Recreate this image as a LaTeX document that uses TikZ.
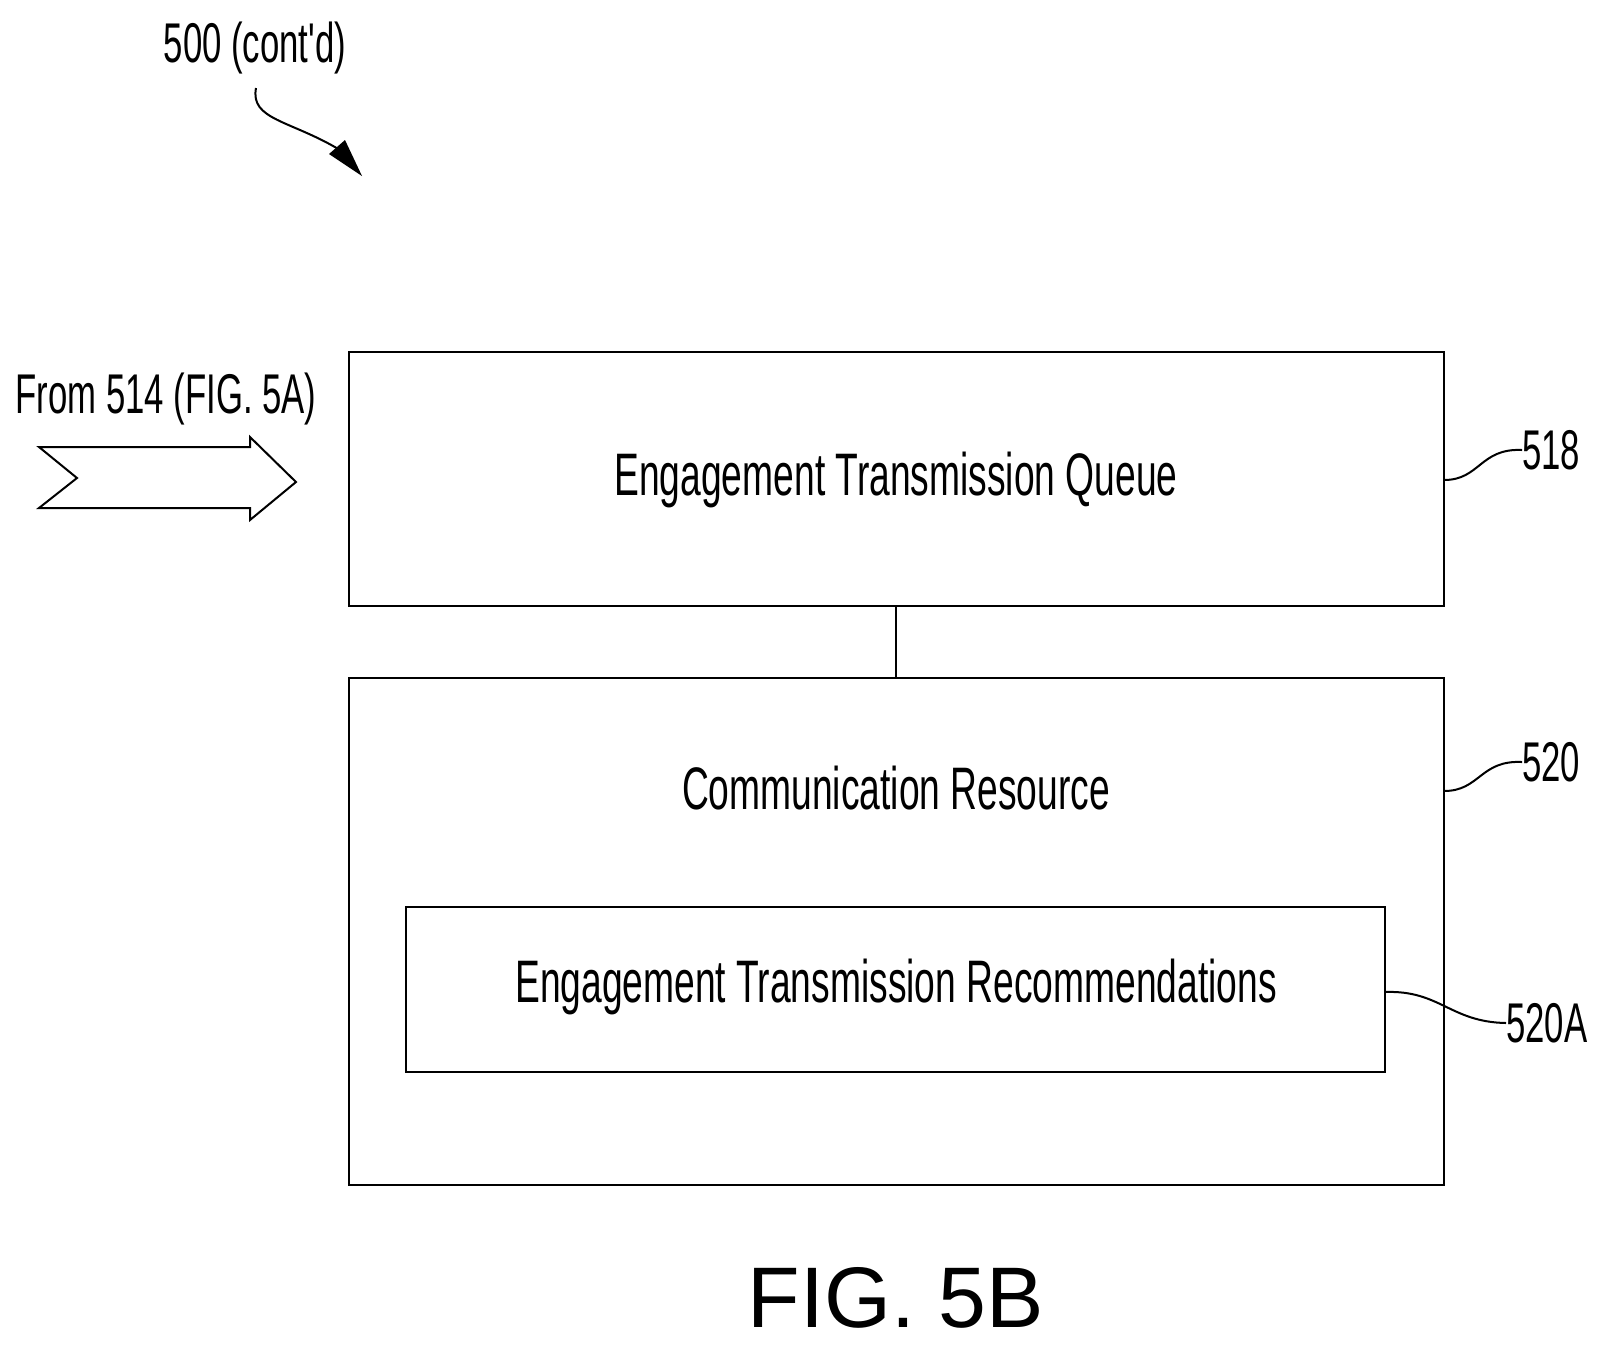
\documentclass[tikz,border=0pt]{standalone}
\usepackage{fontspec}
\setmainfont{Liberation Sans}
\newfontfamily\narrow[FakeStretch=0.62]{Liberation Sans}
\begin{document}
\begin{tikzpicture}[x=1pt,y=-1pt,
  box/.style={draw,line width=2.2pt},
  txt/.style={font=\narrow\fontsize{60}{60}\selectfont,inner sep=0},
  lbl/.style={font=\narrow\fontsize{56}{56}\selectfont,inner sep=0},
  lead/.style={line width=2pt}]
\useasboundingbox (0,0) rectangle (1611,1350);
\draw[box] (349,352) rectangle (1444,606);
\draw[box] (349,678) rectangle (1444,1185);
\draw[box] (406,907) rectangle (1385,1072);
\coordinate (b1s) at (896,606); \coordinate (b2n) at (896,678);
\draw[lead] (b1s) -- (b2n);
\node[txt] (t1) at (896,480) {Engagement Transmission Queue};
\node[txt] (t2) at (896,788) {Communication Resource};
\node[txt] (t3) at (896,987) {Engagement Transmission Recommendations};
\node[lbl,anchor=west] (l518) at (1522,450) {518};
\node[lbl,anchor=west] (l520) at (1522,762) {520};
\node[lbl,anchor=west] (l520a) at (1506,1023) {520A};
\coordinate (a1) at (1444,480); \coordinate (a2) at (1444,791); \coordinate (a3) at (1385,992);
\draw[lead] (a1) .. controls (1480,480) and (1480,448) .. (l518.west);
\draw[lead] (a2) .. controls (1480,791) and (1480,760) .. (l520.west);
\draw[lead] (a3) .. controls (1440,990) and (1450,1022) .. (l520a.west);
\node[lbl] (t500) at (255,48) {500 (cont'd)};
\coordinate (p0) at (256,88); \coordinate (p1) at (362,176);
\draw[lead] (p0) .. controls (250,120) and (290,120) .. (340,150);
\fill (362,176) -- (329,154) -- (345,140) -- cycle;
\node[lbl] (from) at (166,399) {From 514 (FIG. 5A)};
\draw[lead] (39,447) -- (250,447) -- (250,437) -- (296,482) -- (250,520) -- (250,508) -- (39,508) -- (77,478) -- cycle;
\node[inner sep=0,font=\fontsize{86}{86}\selectfont] (fig) at (896,1298) {FIG. 5B};
\end{tikzpicture}
\end{document}
